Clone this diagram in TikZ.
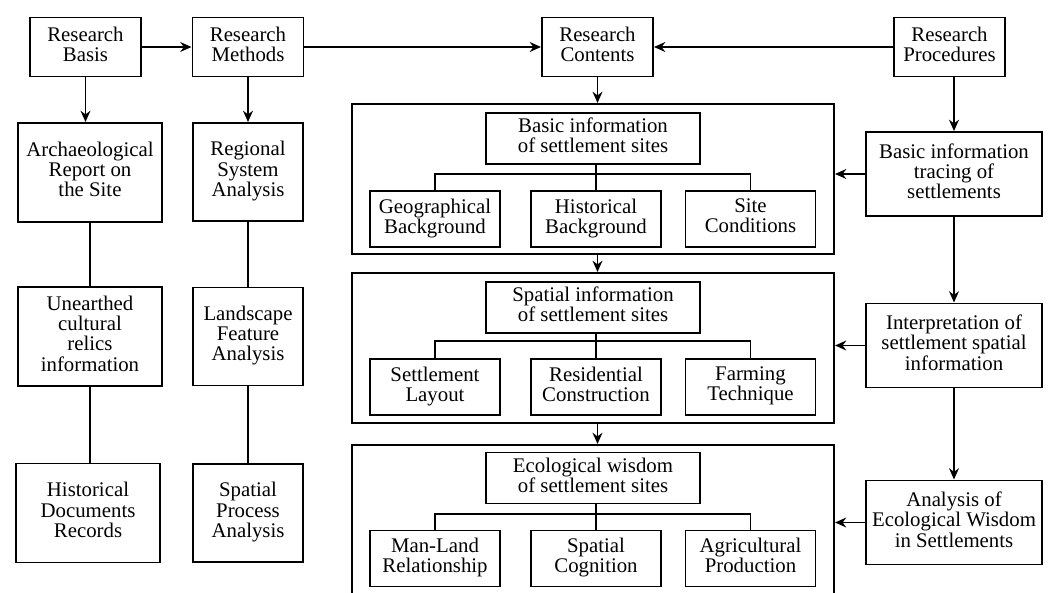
\documentclass[tikz,border=0pt]{standalone}
\usepackage{fontspec}
\setmainfont{Liberation Serif}
\usetikzlibrary{positioning,arrows.meta,calc}
\newcommand\px{0.025cm}

\begin{document}
\begin{tikzpicture}[x=\px,y=-\px,
    box/.style={draw,line width=1.4pt,align=center,inner sep=0pt,font=\fontsize{14.8}{14.4}\selectfont,
      execute at begin node=\strut,execute at end node=\strut},
    topbox/.style={box,minimum width=111*\px,minimum height=59*\px},
    colbox/.style={box,minimum width=144*\px,minimum height=99*\px},
    methbox/.style={box,minimum width=110*\px,minimum height=98*\px},
    outerbox/.style={draw,line width=1.4pt,inner sep=0pt,minimum width=482*\px,minimum height=150*\px},
    headbox/.style={box,minimum width=214*\px,minimum height=51*\px},
    subbox/.style={box,minimum width=130*\px,minimum height=56*\px},
    procbox/.style={box,minimum width=176*\px,minimum height=84*\px},
    link/.style={line width=1.4pt},
    arr/.style={link,-{Stealth[length=8pt,width=7pt]}}]
      \useasboundingbox (0,0) rectangle (1052,592);
      \clip (0,0) rectangle (1052,592);

      \node[topbox] (basis) at (85.5,47) {Research\\Basis};
      \node[topbox] (methods) at (248,47) {Research\\Methods};
      \node[topbox] (contents) at (597.5,47) {Research\\Contents};
      \node[topbox] (procs) at (949.5,47) {Research\\Procedures};

      \node[colbox] (archaeo) at (90,172.5) {Archaeological\\Report on\\the Site};
      \node[colbox] (relics) at (90,336.5) {Unearthed\\cultural\\relics\\information};
      \node[colbox] (records) at (88,513) {Historical\\Documents\\Records};

      \node[methbox] (regional) at (248,172) {Regional\\System\\Analysis};
      \node[methbox] (landscape) at (248,336.5) {Landscape\\Feature\\Analysis};
      \node[methbox] (process) at (248,513) {Spatial\\Process\\Analysis};

      \node[outerbox] (basic) at (593,179) {};
      \node[outerbox] (spatial) at (593,348) {};
      \node[outerbox,minimum height=155*\px] (wisdom) at (593,522.5) {};

      \node[headbox] (basichead) at (593,138.5) {Basic information\\of settlement sites};
      \node[subbox] (geo) at (435,219) {Geographical\\Background};
      \node[subbox] (histbg) at (596,219) {Historical\\Background};
      \node[subbox] (site) at (750.5,219) {Site\\Conditions};

      \node[headbox] (spatialhead) at (593,307.5) {Spatial information\\of settlement sites};
      \node[subbox] (layout) at (435,387) {Settlement\\Layout};
      \node[subbox] (construct) at (596,387) {Residential\\Construction};
      \node[subbox] (farming) at (750.5,387) {Farming\\Technique};

      \node[headbox] (wisdomhead) at (593,478) {Ecological wisdom\\of settlement sites};
      \node[subbox] (manland) at (435,558.5) {Man-Land\\Relationship};
      \node[subbox] (cognition) at (596,558.5) {Spatial\\Cognition};
      \node[subbox] (agri) at (750.5,558.5) {Agricultural\\Production};

      \node[procbox] (trace) at (954,174) {Basic information\\tracing of\\settlements};
      \node[procbox] (interp) at (954,345.5) {Interpretation of\\settlement spatial\\information};
      \node[procbox] (analysis) at (954,522.5) {Analysis of\\Ecological Wisdom\\in Settlements};

      \draw[link] (basichead.south -| histbg.north) -- (histbg.north);
      \draw[link] (geo.north) -- ++(0,-16) -| (site.north);
      \draw[link] (spatialhead.south -| construct.north) -- (construct.north);
      \draw[link] (layout.north) -- ++(0,-17) -| (farming.north);
      \draw[link] (wisdomhead.south -| cognition.north) -- (cognition.north);
      \draw[link] (manland.north) -- ++(0,-16) -| (agri.north);

      \draw[arr] (basis) -- (methods);
      \draw[arr] (methods) -- (contents);
      \draw[arr] (procs) -- (contents);

      \draw[arr] (basis.south) -- (basis.south |- archaeo.north);
      \draw[link] (archaeo) -- (relics);
      \draw[link] (relics.south) -- (relics.south |- records.north);
      \draw[arr] (methods) -- (regional);
      \draw[link] (regional) -- (landscape);
      \draw[link] (landscape) -- (process);

      \draw[arr] (contents.south) -- (contents.south |- basic.north);
      \draw[arr] (basic.south -| contents) -- (spatial.north -| contents);
      \draw[arr] (spatial.south -| contents) -- (wisdom.north -| contents);

      \draw[arr] (procs.south -| trace) -- (trace.north);
      \draw[arr] (trace) -- (interp);
      \draw[arr] (interp) -- (analysis);
      \draw[arr] (trace.west) -- (trace.west -| basic.east);
      \draw[arr] (interp.west) -- (interp.west -| spatial.east);
      \draw[arr] (analysis.west) -- (analysis.west -| wisdom.east);
    \end{tikzpicture}
\end{document}
